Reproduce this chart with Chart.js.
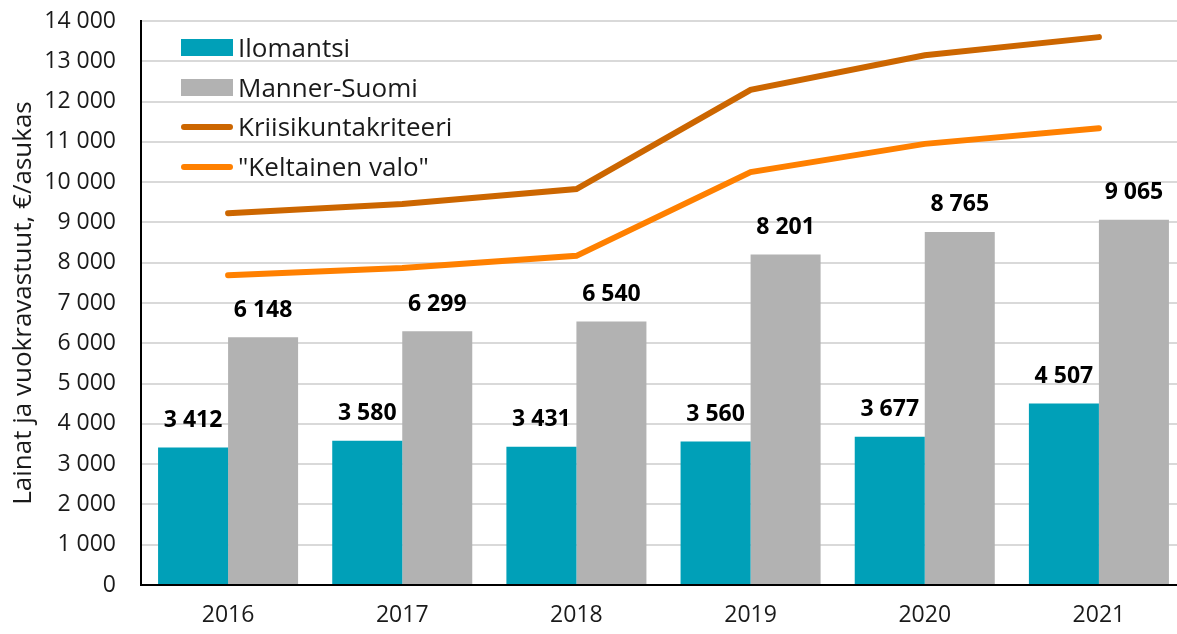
<!DOCTYPE html>
<html lang="fi">
<head>
<meta charset="utf-8">
<script src="https://cdn.jsdelivr.net/npm/chart.js@4/dist/chart.umd.min.js"></script>
<style>
  html, body { margin: 0; padding: 0; background: #fff; overflow: hidden; }
  #wrap { position: relative; width: 1186px; height: 634px; }
  .legend { position: absolute; left: 181px; top: 30px; font-family: "Open Sans", sans-serif; font-size: 26px; color: #1a1a1a; }
  .item { position: absolute; left: 0; height: 34px; width: 320px; }
  .item span.mark { position: absolute; left: 0; }
  .item span.txt { position: absolute; left: 57px; top: 0; line-height: 34px; white-space: nowrap; }
</style>
</head>
<body>
<div id="wrap">
  <canvas id="lainatChart"></canvas>
  <div class="legend" id="legend"></div>
</div>
<script>
// Vuodet
const vuodet = ['2016', '2017', '2018', '2019', '2020', '2021'];

// Lainat ja vuokravastuut, €/asukas
const ilomantsi = [3412, 3580, 3431, 3560, 3677, 4507];
const mannerSuomi = [6148, 6299, 6540, 8201, 8765, 9065];

// Raja-arvot (luettu kuvasta)
const kriisikunta = [9230, 9460, 9830, 12290, 13150, 13600];
const keltainenValo = [7690, 7870, 8170, 10250, 10950, 11340];

const yTicks = [0, 14000, 1000];

const varit = {
    ilomantsi: '#00A0B8',
    manner: '#B2B2B2',
    kriisi: '#CC6600',
    keltainen: '#FF8000'
};

// Numero muotoon "14 000"
function muotoile(n) {
    return String(n).replace(/\B(?=(\d{3})+(?!\d))/g, ' ');
}

// Arvot pylväiden yläpuolelle
const arvoPlugin = {
    id: 'arvot',
    afterDatasetsDraw(chart) {
        const ctx = chart.ctx;
        ctx.save();
        ctx.font = 'bold 23px "Open Sans"';
        ctx.fillStyle = '#000';
        ctx.textAlign = 'center';
        ctx.textBaseline = 'middle';
        chart.data.datasets.forEach((ds, i) => {
            if (ds.type !== 'bar') return;
            const meta = chart.getDatasetMeta(i);
            meta.data.forEach((el, j) => {
                ctx.fillText(muotoile(ds.data[j]), el.x, el.y - 27);
            });
        });
        ctx.restore();
    }
};

const canvas = document.getElementById('lainatChart');
const ctx = canvas.getContext('2d');
new Chart(ctx, {
    data: {
        labels: vuodet,
        datasets: [
            {
                type: 'line',
                label: 'Kriisikuntakriteeri',
                data: kriisikunta,
                borderColor: varit.kriisi,
                backgroundColor: varit.kriisi,
                borderWidth: 6,
                borderCapStyle: 'round',
                pointRadius: 0,
                tension: 0,
                order: 0
            },
            {
                type: 'line',
                label: '"Keltainen valo"',
                data: keltainenValo,
                borderColor: varit.keltainen,
                backgroundColor: varit.keltainen,
                borderWidth: 6,
                borderCapStyle: 'round',
                pointRadius: 0,
                tension: 0,
                order: 0
            },
            {
                type: 'bar',
                label: 'Ilomantsi',
                data: ilomantsi,
                backgroundColor: varit.ilomantsi,
                categoryPercentage: 0.804,
                barPercentage: 1.0,
                order: 1
            },
            {
                type: 'bar',
                label: 'Manner-Suomi',
                data: mannerSuomi,
                backgroundColor: varit.manner,
                categoryPercentage: 0.804,
                barPercentage: 1.0,
                order: 1
            }
        ]
    },
    options: {
        responsive: true,
        maintainAspectRatio: false,
        animation: false,
        layout: { padding: { top: 21, right: 0, left: 0, bottom: 0 } },
        plugins: {
            legend: { display: false },
            tooltip: { enabled: false }
        },
        scales: {
            x: {
                grid: { display: false, drawTicks: false },
                border: { color: '#000', width: 2 },
                ticks: {
                    color: '#1a1a1a',
                    font: { family: 'Open Sans', size: 23 },
                    padding: 17
                },
                afterFit(scale) {
                    scale.height = 49;
                    scale.paddingLeft = 0;
                    scale.paddingRight = 0;
                }
            },
            y: {
                min: yTicks[0],
                max: yTicks[1],
                border: { color: '#000', width: 2 },
                grid: {
                    drawTicks: false,
                    lineWidth: 2,
                    color: c => (c.tick && c.tick.value % yTicks[2] === 0) ? '#d9d9d9' : '#efefef'
                },
                ticks: {
                    stepSize: yTicks[2] / 2,
                    color: '#1a1a1a',
                    font: { family: 'Open Sans', size: 23 },
                    padding: 25,
                    callback: v => (v % yTicks[2] === 0) ? muotoile(v) : ''
                },
                title: {
                    display: true,
                    text: 'Lainat ja vuokravastuut, €/asukas',
                    color: '#1a1a1a',
                    font: { family: 'Open Sans', size: 26 },
                    padding: { top: 8, bottom: 4 }
                },
                afterFit(scale) {
                    scale.width = 141;
                    scale.paddingTop = 0;
                    scale.paddingBottom = 0;
                }
            }
        }
    },
    plugins: [arvoPlugin]
});

// Selite kaavioalueen sisälle
const selite = [
    { nimi: 'Ilomantsi', vari: varit.ilomantsi, tyyppi: 'box' },
    { nimi: 'Manner-Suomi', vari: varit.manner, tyyppi: 'box' },
    { nimi: 'Kriisikuntakriteeri', vari: varit.kriisi, tyyppi: 'line' },
    { nimi: '"Keltainen valo"', vari: varit.keltainen, tyyppi: 'line' }
];
const legend = document.getElementById('legend');
selite.forEach((s, i) => {
    const item = document.createElement('div');
    item.className = 'item';
    item.style.top = (i * 39.7) + 'px';
    const mark = document.createElement('span');
    mark.className = 'mark';
    mark.style.background = s.vari;
    mark.style.width = '52px';
    if (s.tyyppi === 'box') {
        mark.style.height = '17px';
        mark.style.top = '9px';
    } else {
        mark.style.height = '6px';
        mark.style.top = '15px';
        mark.style.borderRadius = '3px';
    }
    const txt = document.createElement('span');
    txt.className = 'txt';
    txt.textContent = s.nimi;
    item.appendChild(mark);
    item.appendChild(txt);
    legend.appendChild(item);
});
</script>
</body>
</html>
